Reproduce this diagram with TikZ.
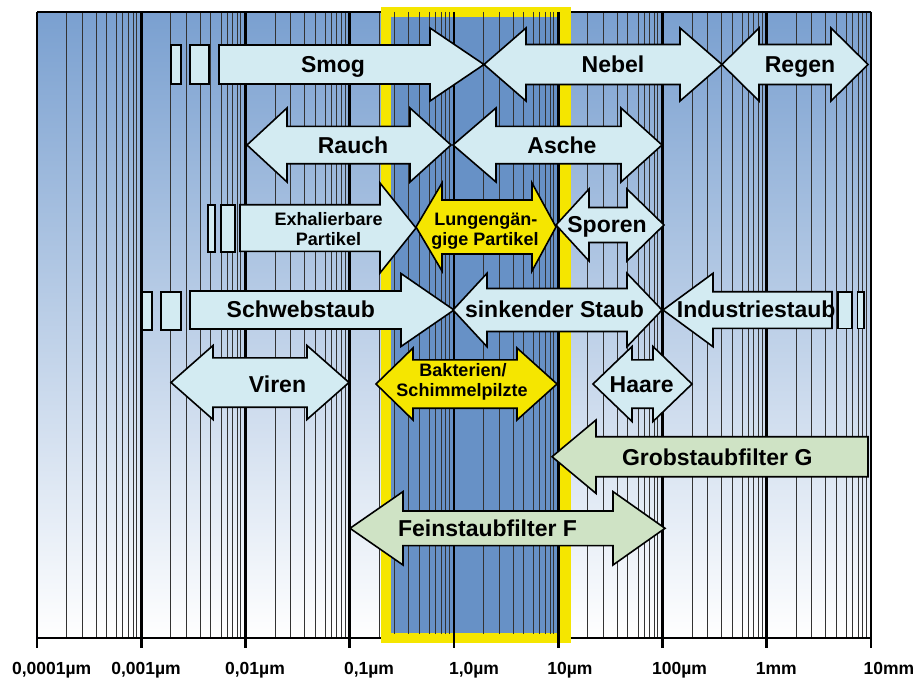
\documentclass[tikz,border=0pt]{standalone}
\usepackage{fontspec}
\setmainfont{Liberation Sans}
\definecolor{bgtop}{RGB}{122,160,208}
\definecolor{frameblue}{RGB}{103,145,198}
\definecolor{fyellow}{RGB}{245,230,0}
\definecolor{lblue}{RGB}{211,235,242}
\definecolor{lgreen}{RGB}{207,227,197}
\tikzset{
  minorline/.style={black!80, line width=1pt},
  decadeline/.style={black, line width=2.8pt},
  arr/.style={draw=black, line width=1.6pt, line join=miter},
  bluearr/.style={arr, fill=lblue},
  yellowarr/.style={arr, fill=fyellow},
  greenarr/.style={arr, fill=lgreen},
  biglbl/.style={font=\fontsize{23}{26}\selectfont\bfseries, anchor=base, inner sep=0pt},
  smalllbl/.style={font=\fontsize{18}{20}\selectfont\bfseries, anchor=base, inner sep=0pt},
  axlbl/.style={font=\fontsize{17.5}{20}\selectfont\bfseries, anchor=base, inner sep=0pt},
}
% double arrow: style, tipL, baseL, baseR, tipR, yc, half shaft, half head
\newcommand{\myDArrow}[8]{\path[#1] (#2,#6) -- (#3,#6-#8) -- (#3,#6-#7) -- (#4,#6-#7) -- (#4,#6-#8) -- (#5,#6) -- (#4,#6+#8) -- (#4,#6+#7) -- (#3,#6+#7) -- (#3,#6+#8) -- cycle;}
% right arrow: style, xstart, baseR, tipR, yc, half shaft, half head
\newcommand{\myRArrow}[7]{\path[#1] (#2,#5-#6) -- (#3,#5-#6) -- (#3,#5-#7) -- (#4,#5) -- (#3,#5+#7) -- (#3,#5+#6) -- (#2,#5+#6) -- cycle;}
% left arrow: style, tipL, baseL, xend, yc, half shaft, half head
\newcommand{\myLArrow}[7]{\path[#1] (#2,#5) -- (#3,#5-#7) -- (#3,#5-#6) -- (#4,#5-#6) -- (#4,#5+#6) -- (#3,#5+#6) -- (#3,#5+#7) -- cycle;}
\begin{document}
\begin{tikzpicture}[x=1pt,y=-1pt]
\useasboundingbox (0,0) rectangle (917,677);
% background gradient
\shade[top color=bgtop, bottom color=white] (37,12) rectangle (871,638);
% minor grid
\foreach \d in {0,...,7}{
  \foreach \f in {0.283,0.433,0.566,0.668,0.766,0.823,0.876,0.921,0.955}{
    \draw[minorline] ({37+104.25*(\d+\f)},12) -- ++(0,626);
  }
}
\draw[black, line width=1.5pt] (37,12) -- (871,12);
\draw[black, line width=2pt] (37,638) -- (871,638);
% yellow frame
\fill[fyellow] (381,7) rectangle (571,643);
\fill[frameblue] (391,17) rectangle (559,633);
\begin{scope}
  \clip (381,12) rectangle (571,633);
  \foreach \d in {3,4}{
    \foreach \f in {0.283,0.433,0.566,0.668,0.766,0.823,0.876,0.921,0.955}{
      \draw[minorline] ({37+104.25*(\d+\f)},12) -- ++(0,626);
    }
  }
\end{scope}
% decade lines and ticks
\foreach \d in {0,...,8}{
  \draw[decadeline] ({37+104.25*\d},12) -- ++(0,636);
}
% row 1
\path[bluearr] (171,45) rectangle (181,84);
\path[bluearr] (190,45) rectangle (209,84);
\myRArrow{bluearr}{219}{430}{484}{64.5}{19.5}{36.5}
\myDArrow{bluearr}{484}{526}{680}{722}{64.5}{20}{36.5}
\myDArrow{bluearr}{722}{759}{831}{868}{64.5}{20}{36.5}
% row 2
\myDArrow{bluearr}{247}{287}{410}{451}{145}{18.7}{37}
\myDArrow{bluearr}{453}{496}{621}{662}{145}{18.7}{37}
% row 3
\path[bluearr] (208,205) rectangle (215,251.7);
\path[bluearr] (221,205) rectangle (235,251.7);
\myRArrow{bluearr}{240}{380}{416}{228}{23.3}{45}
\myDArrow{yellowarr}{416}{442}{532}{556}{227}{27}{44}
\myDArrow{bluearr}{556}{589}{627}{664}{225}{17.5}{36}
% row 4
\path[bluearr] (142,291.7) rectangle (151.7,330);
\path[bluearr] (161,291.7) rectangle (180.7,330);
\myRArrow{bluearr}{190}{401}{454}{310}{19}{36.5}
\myDArrow{bluearr}{453}{487}{627}{662}{310}{21.5}{36.7}
\myLArrow{bluearr}{663}{713}{832}{310}{18.3}{36.7}
\path[bluearr] (838,291.7) rectangle (851.7,328.3);
\path[bluearr] (857.3,291.7) rectangle (864,328.3);
% row 5
\myDArrow{bluearr}{171}{213}{307}{349}{382.5}{24.7}{37}
\myDArrow{yellowarr}{376}{413}{517}{557}{384}{24.2}{36}
\myDArrow{bluearr}{593}{632}{653}{692}{384}{24.2}{37.5}
% filters
\myLArrow{greenarr}{552}{596}{868}{456.7}{20}{36.7}
\myDArrow{greenarr}{350}{403}{613}{665}{528.3}{17.3}{36.7}
% labels
\node[biglbl] (smog) at (333,72) {Smog};
\node[biglbl] (nebel) at (613,72) {Nebel};
\node[biglbl] (regen) at (800,72) {Regen};
\node[biglbl] (rauch) at (353,153) {Rauch};
\node[biglbl] (asche) at (562,153) {Asche};
\node[smalllbl] (exh1) at (328.7,225) {Exhalierbare};
\node[smalllbl] (exh2) at (328.5,245) {Partikel};
\node[smalllbl] (lung1) at (485.8,225.7) {Lungengän-};
\node[smalllbl] (lung2) at (485,245) {gige Partikel};
\node[biglbl] (sporen) at (607,232) {Sporen};
\node[biglbl] (schweb) at (300.8,317) {Schwebstaub};
\node[biglbl] (sink) at (554.5,317) {sinkender Staub};
\node[biglbl] (indu) at (756.2,317) {Industriestaub};
\node[biglbl] (viren) at (277.5,392.5) {Viren};
\node[smalllbl] (bak1) at (463,376.7) {Bakterien/};
\node[smalllbl] (bak2) at (462,396.7) {Schimmelpilzte};
\node[biglbl] (haare) at (641.7,392.5) {Haare};
\node[biglbl] (grob) at (717.2,465) {Grobstaubfilter G};
\node[biglbl] (fein) at (487.5,536.7) {Feinstaubfilter F};
% axis labels
\node[axlbl] (a1) at (51.7,674) {0,0001µm};
\node[axlbl] (a2) at (146,674) {0,001µm};
\node[axlbl] (a3) at (255,674) {0,01µm};
\node[axlbl] (a4) at (369,674) {0,1µm};
\node[axlbl] (a5) at (474,674) {1,0µm};
\node[axlbl] (a6) at (570,674) {10µm};
\node[axlbl] (a7) at (679.5,674) {100µm};
\node[axlbl] (a8) at (776.3,674) {1mm};
\node[axlbl] (a9) at (889,674) {10mm};
\end{tikzpicture}
\end{document}
